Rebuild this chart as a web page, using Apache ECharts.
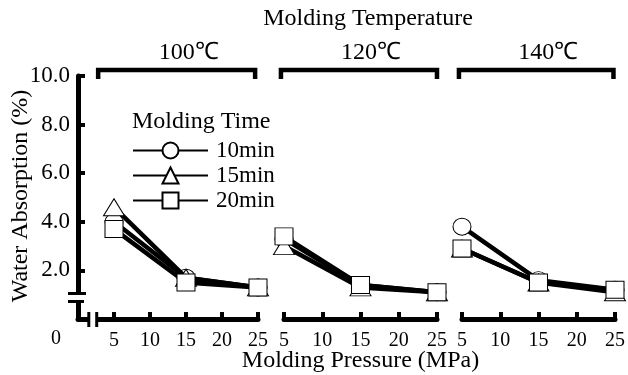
<!DOCTYPE html>
<html>
<head>
<meta charset="utf-8">
<script src="https://cdn.jsdelivr.net/npm/echarts@6/dist/echarts.min.js"></script>
<style>
  html, body { margin: 0; padding: 0; background: #fff; }
  #chart { width: 628px; height: 375px; }
</style>
</head>
<body>
<div id="chart"></div>
<script>
const pressures = [5, 15, 25]
const temperatures = ["100℃", "120℃", "140℃"]
const times = ["10min", "15min", "20min"]
const symbols = ["circle", "triangle", "rect"]

// water absorption (%) for each molding time, one row per temperature panel
const min10 = [[4.0, 1.7, 1.3], [3.3, 1.4, 1.1], [3.8, 1.6, 1.2]]
const min15 = [[4.6, 1.7, 1.3], [3.0, 1.3, 1.1], [2.9, 1.5, 1.1]]
const min20 = [[3.7, 1.5, 1.3], [3.4, 1.4, 1.1], [2.9, 1.5, 1.2]]
const byTime = [min10, min15, min20]

const FONT = "'Liberation Serif', 'Times New Roman', serif"
const chart = echarts.init(document.getElementById("chart"))

const grids = [
  { left: 78, width: 180, top: 76, height: 243 },
  { left: 284, width: 153, top: 76, height: 243 },
  { left: 462, width: 155, top: 76, height: 243 }
]

const axisLine = { show: true, lineStyle: { color: "#000", width: 5 } }
const axisTick = { show: true, inside: true, length: 7, lineStyle: { color: "#000", width: 4 } }

const xAxes = grids.map((g, i) => ({
  type: "value",
  gridIndex: i,
  min: i === 0 ? 0 : 5,
  max: 25,
  interval: 5,
  axisLine,
  axisTick,
  splitLine: { show: false },
  axisLabel: {
    color: "#000", fontFamily: FONT, fontSize: 20, margin: 12,
    formatter: v => (v === 0 ? "" : String(v))
  }
}))

const yAxes = grids.map((g, i) => ({
  type: "value",
  gridIndex: i,
  min: 0,
  max: 10,
  interval: 2,
  show: i === 0,
  axisLine,
  axisTick,
  splitLine: { show: false },
  axisLabel: {
    color: "#000", fontFamily: FONT, fontSize: 23, margin: 8,
    formatter: v => (v === 0 ? "" : v.toFixed(1))
  }
}))

const symbolSizes = [[18, 17], [21, 17], [18, 17]]
const series = []
temperatures.forEach((t, p) => {
  times.forEach((name, k) => {
    series.push({
      name,
      type: "line",
      xAxisIndex: p,
      yAxisIndex: p,
      data: pressures.map((x, j) => [x, byTime[k][p][j]]),
      symbol: symbols[k],
      symbolSize: symbolSizes[k],
      showAllSymbol: true,
      z: 2 + k,
      lineStyle: { color: "#000", width: 4.5 },
      itemStyle: { color: "#fff", borderColor: "#000", borderWidth: 1 }
    })
  })
})

chart.setOption({
  animation: false,
  backgroundColor: "#fff",
  grid: grids,
  xAxis: xAxes,
  yAxis: yAxes,
  legend: {
    data: times,
    orient: "vertical",
    left: 132,
    top: 139,
    padding: 0,
    itemWidth: 75,
    itemHeight: 20,
    itemGap: 2,
    textStyle: { color: "#000", fontFamily: FONT, fontSize: 23, padding: [0, 0, 0, 3] }
  },
  series
})

// decorations: axis breaks, panel brackets and text
const px = (p, x) => chart.convertToPixel({ xAxisIndex: p }, x)
const py = v => chart.convertToPixel({ yAxisIndex: 0 }, v)
const black = { stroke: "#000", lineWidth: 3 }
const txt = (text, size, align) => ({ text, font: size + "px " + FONT, fill: "#000", align: align || "center", verticalAlign: "middle" })

const yBreakTop = py(1.05)
const yBreakBot = py(0.72)
const xBreakL = px(0, 1.5)
const xBreakR = px(0, 2.6)
const axisY = py(0)
const axisX = px(0, 0)

const graphic = [
  { type: "rect", shape: { x: axisX - 6, y: yBreakTop, width: 12, height: yBreakBot - yBreakTop }, style: { fill: "#fff" }, z: 50 },
  { type: "line", shape: { x1: axisX - 10, y1: yBreakTop, x2: axisX + 8, y2: yBreakTop }, style: black, z: 51 },
  { type: "line", shape: { x1: axisX - 10, y1: yBreakBot, x2: axisX + 6, y2: yBreakBot }, style: black, z: 51 },
  { type: "rect", shape: { x: xBreakL, y: axisY - 6, width: xBreakR - xBreakL, height: 12 }, style: { fill: "#fff" }, z: 50 },
  { type: "line", shape: { x1: xBreakL, y1: axisY - 7, x2: xBreakL, y2: axisY + 8 }, style: black, z: 51 },
  { type: "line", shape: { x1: xBreakR, y1: axisY - 7, x2: xBreakR, y2: axisY + 8 }, style: black, z: 51 },
  { type: "text", x: axisX - 22, y: axisY + 20, style: txt("0", 20) },
  { type: "text", x: 368, y: 19, style: txt("Molding Temperature", 24) },
  { type: "text", x: px(1, 15), y: 361, style: txt("Molding Pressure (MPa)", 24) },
  { type: "text", x: 21, y: 196, rotation: Math.PI / 2, style: txt("Water Absorption (%)", 24) },
  { type: "text", x: 132, y: 122, style: txt("Molding Time", 24, "left") }
]

// brackets above each panel
const bracketSpans = [[2.8, 24.6], [4.6, 25], [4.6, 24.8]]
const bracketY = 70
temperatures.forEach((t, p) => {
  const x1 = px(p, bracketSpans[p][0])
  const x2 = px(p, bracketSpans[p][1])
  graphic.push({
    type: "polyline",
    shape: { points: [[x1, bracketY + 9], [x1, bracketY], [x2, bracketY], [x2, bracketY + 9]] },
    style: { stroke: "#000", lineWidth: 4.5, fill: null }
  })
  graphic.push({ type: "text", x: (x1 + x2) / 2 + 12, y: 53, style: txt(t, 24) })
})

chart.setOption({ graphic })
</script>
</body>
</html>
